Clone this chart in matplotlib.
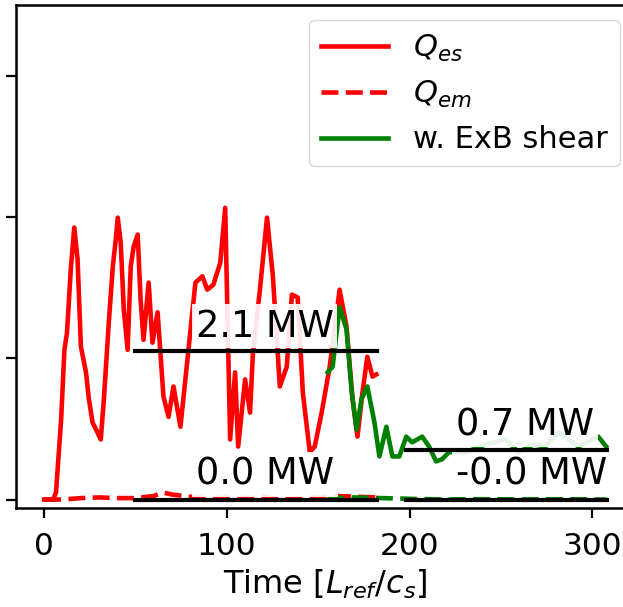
"""Heat flux time traces with and without ExB shear, with window averages."""

import matplotlib.pyplot as plt

# Q_es without shear (MW)
T_ES = [0, 4.9, 6.5, 9.3, 11.1, 12.5, 14.7, 16.5, 18.3, 20.1, 22.9, 24.5,
        26.5, 29.2, 31.0, 32.7, 35.4, 37.6, 39.2, 40.3, 41.9, 43.6, 45.7,
        47.4, 49.0, 51.2, 52.8, 54.4, 57.2, 59.3, 62.1, 65.3, 68.1, 70.8,
        74.6, 77.3, 82.8, 86.6, 89.3, 92.6, 96.4, 99.1, 101.8, 104.5, 106.2,
        110.0, 112.7, 114.3, 118.1, 122.0, 125.2, 129.0, 132.8, 135.6, 138.8,
        141.6, 145.4, 148.1, 151.9, 156.3, 161.7, 165.5, 168.8, 171.5, 174.2,
        176.9, 179.7, 181.8]
Q_ES = [0, 0, 0.10, 1.13, 2.12, 2.36, 3.30, 3.85, 3.40, 2.17, 1.80, 1.42,
        1.09, 0.95, 0.85, 1.42, 2.51, 3.30, 3.68, 3.99, 3.64, 2.69, 2.12,
        3.30, 3.58, 3.75, 2.83, 2.26, 3.07, 2.22, 2.65, 1.46, 1.17, 1.60,
        1.03, 1.70, 3.07, 3.16, 2.97, 3.04, 3.35, 4.13, 0.85, 1.80, 0.75,
        1.70, 1.23, 2.08, 2.97, 3.99, 3.16, 1.60, 1.88, 2.90, 2.86,
        1.51, 0.67, 0.75, 1.23, 1.88, 2.97, 2.45, 1.42, 0.89, 1.51,
        2.02, 1.74, 1.77]

# Q_em without shear
T_EM = [0, 10, 20, 30, 40, 50, 60, 65, 70, 80, 90, 100, 110, 120, 130, 140,
        150, 160, 170, 182]
Q_EM = [0, 0, 0.02, 0.03, 0.02, 0.02, 0.05, 0.10, 0.07, 0.04, 0.02, 0.03,
        0.02, 0.04, 0.0, 0.02, 0.03, 0.05, 0.04, 0.03]

# Q_es with ExB shear
T_SHEAR = [155.2, 157.9, 161.7, 165.5, 168.2, 171.0, 173.7, 176.9, 180.8,
           183.5, 187.3, 190.6, 194.4, 198.2, 201.4, 206.9, 210.7, 214.5,
           217.8, 221.6, 230.8, 241.7, 252.6, 259.7, 267.9, 274.4, 281.5,
           292.4, 303.3, 307.6]
Q_SHEAR = [1.80, 1.88, 2.72, 2.41, 1.56, 0.99, 1.42, 1.60, 1.09, 0.61, 1.03,
           0.61, 0.61, 0.89, 0.81, 0.89, 0.75, 0.54, 0.57, 0.67, 0.67, 0.78,
           0.85, 0.67, 0.78, 0.75, 0.95, 0.75, 0.89, 0.75]

# Q_em with ExB shear
T_SHEAR_EM = [155, 170, 185, 200, 220, 240, 260, 280, 300, 308]
Q_SHEAR_EM = [0.02, 0.03, 0.02, 0.01, 0.0, 0.01, 0.0, 0.01, 0.0, 0.0]

# averaging windows: (t_start, t_end, mean, label)
AVG_START = [50, 50, 198, 198]
AVG_END = [182, 182, 308, 308]
AVG_MEAN = [2.1, 0.0, 0.7, 0.0]
AVG_LABEL = ["2.1 MW", "0.0 MW", "0.7 MW", "-0.0 MW"]

YTICKS = [0, 2, 4, 6]
XTICKS = [0, 100, 200, 300]


def main():
    fig = plt.figure(figsize=(6.23, 6.07), dpi=100)
    ax = fig.add_axes([16 / 623, 99 / 607, 619 / 623, 503 / 607])

    lw = 3.3
    ax.plot(T_ES, Q_ES, color="red", lw=lw, label="$Q_{es}$")
    ax.plot(T_EM, Q_EM, color="red", lw=lw, ls="--", label="$Q_{em}$")
    ax.plot(T_SHEAR, Q_SHEAR, color="green", lw=lw, label="w. ExB shear")
    ax.plot(T_SHEAR_EM, Q_SHEAR_EM, color="green", lw=lw, ls="--")

    for t0, t1, m, lab in zip(AVG_START, AVG_END, AVG_MEAN, AVG_LABEL):
        ax.plot([t0, t1], [m, m], color="black", lw=3.0, zorder=5)
        ax.annotate(lab, (t0 + (t1 - t0) / 4, m), xytext=(0, 10.5),
                    textcoords="offset points", ha="left", va="baseline",
                    fontsize=26.5, zorder=4,
                    bbox=dict(boxstyle="square,pad=0.1", fc="white",
                              ec="none", alpha=0.9))

    ax.set_xlim(-15.4, 323.4)
    ax.set_ylim(-0.12, 7.0)
    ax.set_xticks(XTICKS)
    ax.set_yticks(YTICKS)
    ax.set_yticklabels([])
    ax.tick_params(labelsize=22.5, length=7, width=1.6, pad=10)
    for s in ax.spines.values():
        s.set_linewidth(1.8)
    ax.set_xlabel("Time [$L_{ref}/c_s$]", fontsize=23, labelpad=5)

    ax.legend(loc="upper right", fontsize=22, handlelength=2.2)

    fig.savefig("out.png", dpi=100)
    plt.close(fig)


if __name__ == "__main__":
    main()
